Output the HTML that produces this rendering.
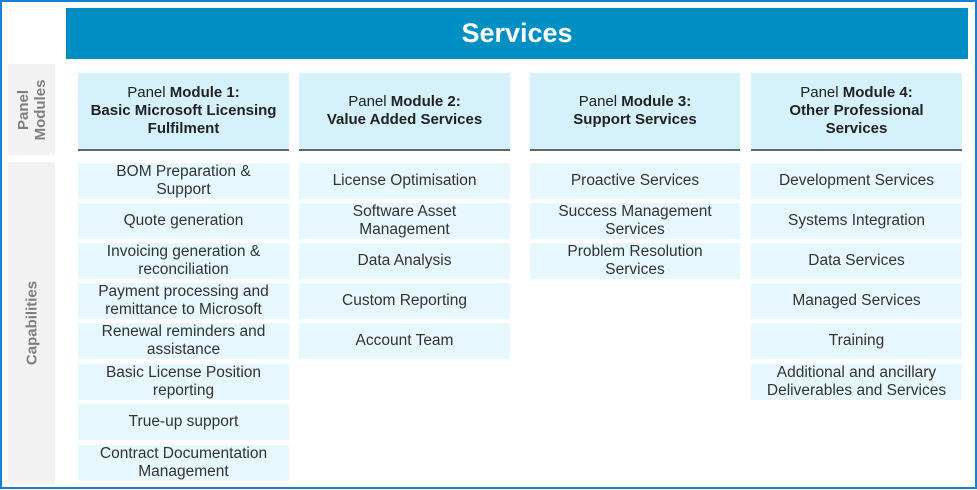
<!DOCTYPE html>
<html><head><style>
body{margin:0;width:977px;height:490px;background:#fff;position:relative;overflow:hidden;font-family:"Liberation Sans",sans-serif;color:#333}
.frame{position:absolute;left:0;top:0;width:973px;height:485px;border:2px solid #1a7fd0}
.hdr{position:absolute;left:66px;top:8px;width:902px;height:51px;background:#008fc4;color:#fff;font-weight:bold;font-size:27px;text-align:center;line-height:51px}
.side{position:absolute;left:8px;width:47px;background:#f2f2f2}
.vt{position:absolute;left:50%;top:50%;transform:translate(-50%,-50%) rotate(-90deg);white-space:nowrap;color:#7f7f7f;font-weight:bold;font-size:15px;text-align:center;line-height:17px}
.mh{position:absolute;top:73px;height:76px;background:#d4f1fc;border-bottom:2px solid #666;display:flex;align-items:center;justify-content:center;text-align:center;font-size:15px;font-weight:bold;line-height:18px;color:#222}
.c{position:absolute;height:36px;background:#e6f7fe;display:flex;align-items:center;justify-content:center;text-align:center;font-size:15.5px;line-height:18px;color:#333}
.n{font-weight:normal}
</style></head><body>
<div class="frame"></div>
<div class="hdr">Services</div>
<div class="side" style="top:64px;height:91px"><div class="vt">Panel<br>Modules</div></div>
<div class="side" style="top:162px;height:322px"><div class="vt">Capabilities</div></div>

<div class="mh" style="left:78px;width:211px"><div><span class="n">Panel</span> Module 1:<br>Basic Microsoft Licensing<br>Fulfilment</div></div>
<div class="mh" style="left:299px;width:211px"><div><span class="n">Panel</span> Module 2:<br>Value Added Services</div></div>
<div class="mh" style="left:530px;width:210px"><div><span class="n">Panel</span> Module 3:<br>Support Services</div></div>
<div class="mh" style="left:751px;width:211px"><div><span class="n">Panel</span> Module 4:<br>Other Professional<br>Services</div></div>

<div class="c" style="left:78px;width:211px;top:163px">BOM Preparation &amp;<br>Support</div>
<div class="c" style="left:78px;width:211px;top:203px">Quote generation</div>
<div class="c" style="left:78px;width:211px;top:243px">Invoicing generation &amp;<br>reconciliation</div>
<div class="c" style="left:78px;width:211px;top:283px">Payment processing and<br>remittance to Microsoft</div>
<div class="c" style="left:78px;width:211px;top:323px">Renewal reminders and<br>assistance</div>
<div class="c" style="left:78px;width:211px;top:364px">Basic License Position<br>reporting</div>
<div class="c" style="left:78px;width:211px;top:404px">True-up support</div>
<div class="c" style="left:78px;width:211px;top:445px">Contract Documentation<br>Management</div>

<div class="c" style="left:299px;width:211px;top:163px">License Optimisation</div>
<div class="c" style="left:299px;width:211px;top:203px">Software Asset<br>Management</div>
<div class="c" style="left:299px;width:211px;top:243px">Data Analysis</div>
<div class="c" style="left:299px;width:211px;top:283px">Custom Reporting</div>
<div class="c" style="left:299px;width:211px;top:323px">Account Team</div>

<div class="c" style="left:530px;width:210px;top:163px">Proactive Services</div>
<div class="c" style="left:530px;width:210px;top:203px">Success Management<br>Services</div>
<div class="c" style="left:530px;width:210px;top:243px">Problem Resolution<br>Services</div>

<div class="c" style="left:751px;width:211px;top:163px">Development Services</div>
<div class="c" style="left:751px;width:211px;top:203px">Systems Integration</div>
<div class="c" style="left:751px;width:211px;top:243px">Data Services</div>
<div class="c" style="left:751px;width:211px;top:283px">Managed Services</div>
<div class="c" style="left:751px;width:211px;top:323px">Training</div>
<div class="c" style="left:751px;width:211px;top:364px">Additional and ancillary<br>Deliverables and Services</div>
</body></html>
